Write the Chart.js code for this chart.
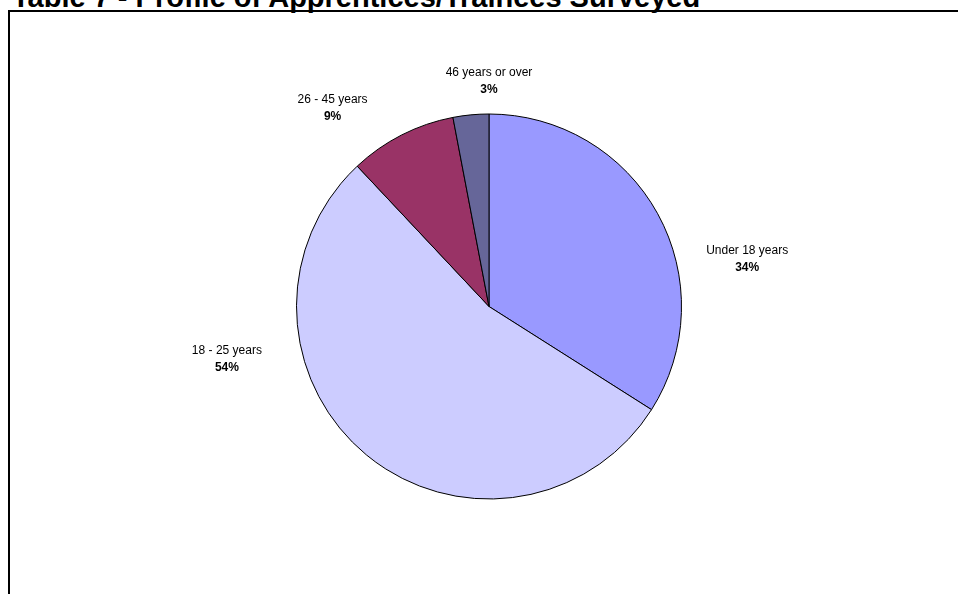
<!DOCTYPE html>
<html>
<head>
<meta charset="utf-8">
<script src="https://cdn.jsdelivr.net/npm/chart.js@4.4.1/dist/chart.umd.min.js"></script>
<style>
  html, body { margin: 0; padding: 0; background: #fff; overflow: hidden; }
  body { width: 958px; height: 594px; position: relative; }
  #title { position: absolute; left: 12px; top: -19px; font: bold 29px "Liberation Sans", Arial, sans-serif; white-space: nowrap; color: #000; line-height: normal; }
  #frame { position: absolute; left: 8px; top: 10px; width: 1200px; height: 900px; border: 2px solid #000; box-sizing: border-box; }
  #wrap { position: absolute; left: 0; top: 0; width: 958px; height: 594px; }
</style>
</head>
<body>
<div id="title">Table 7 - Profile of Apprentices/Trainees Surveyed</div>
<div id="frame"></div>
<div id="wrap"><canvas id="c" width="958" height="594"></canvas></div>
<script>
const categories = ["Under 18 years", "18 - 25 years", "26 - 45 years", "46 years or over"];
const percentages = [34, 54, 9, 3];
const sliceColors = ["#9999FF", "#CCCCFF", "#993366", "#666699"];

// label placement (polar, relative to pie centre, in units of radius; angle in degrees clockwise from top)
const labelLayout = [
  { angle: 79.7, dist: 1.363 },
  { angle: 258.6, dist: 1.389 },
  { angle: 321.7, dist: 1.311 },
  { angle: 0, dist: 1.168 }
];

const labelPlugin = {
  id: 'outerLabels',
  afterDatasetsDraw(chart) {
    const ctx = chart.ctx;
    const meta = chart.getDatasetMeta(0);
    ctx.save();
    ctx.fillStyle = '#000';
    ctx.textAlign = 'center';
    ctx.textBaseline = 'middle';
    meta.data.forEach((arc, i) => {
      const { x, y, outerRadius } = arc.getProps(['x', 'y', 'outerRadius'], true);
      const a = labelLayout[i].angle * Math.PI / 180;
      const r = outerRadius * labelLayout[i].dist;
      const lx = x + Math.sin(a) * r;
      const ly = y - Math.cos(a) * r;
      ctx.font = '12px "Liberation Sans", Arial, sans-serif';
      ctx.fillText(chart.data.labels[i], lx, ly - 8.5);
      ctx.font = 'bold 12px "Liberation Sans", Arial, sans-serif';
      ctx.fillText(chart.data.datasets[0].data[i] + '%', lx, ly + 8.5);
    });
    ctx.restore();
  }
};

new Chart(document.getElementById('c'), {
  type: 'pie',
  data: {
    labels: categories,
    datasets: [{
      data: percentages,
      backgroundColor: sliceColors,
      borderColor: '#000',
      borderWidth: 1
    }]
  },
  options: {
    responsive: false,
    animation: false,
    rotation: 0,
    layout: { padding: { top: 113.5, bottom: 94.5, left: 20, right: 0 } },
    plugins: {
      legend: { display: false },
      tooltip: { enabled: false },
      title: { display: false }
    }
  },
  plugins: [labelPlugin]
});
</script>
</body>
</html>
